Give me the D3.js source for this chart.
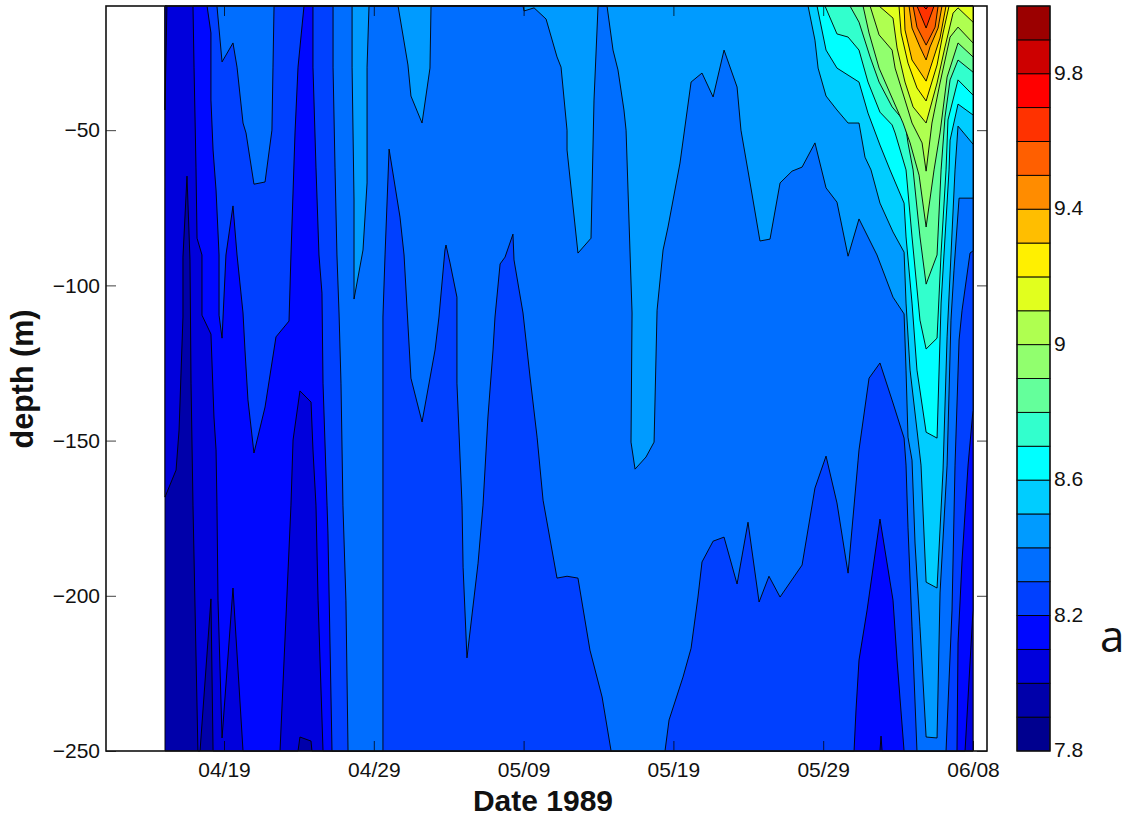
<!DOCTYPE html>
<html><head><meta charset="utf-8">
<script src="https://cdn.jsdelivr.net/npm/d3@7"></script>
<style>html,body{margin:0;padding:0;background:#fff}svg{display:block}text{font-family:"Liberation Sans",Arial,sans-serif;fill:#111}</style>
</head><body><div id="chart"></div>
<script>
// Days are counted from 19 April 1989; depths are in metres.
const xTickDays = [0,10,20,30,40,50];
const xTickLabels = ["04/19","04/29","05/09","05/19","05/29","06/08"];
const yTicks = [-50,-100,-150,-200,-250];
const yTickLabels = ["−50","−100","−150","−200","−250"];
const barTicks = [7.8,8.2,8.6,9,9.4,9.8];
const barTickLabels = ["7.8","8.2","8.6","9","9.4","9.8"];
const bandStarts = [7.8,7.9,8.0,8.1,8.2,8.3,8.4,8.5,8.6,8.7,8.8,8.9,9.0,9.1,9.2,9.3,9.4,9.5,9.6,9.7,9.8,9.9];
const bandColors = ["#00008f","#0000aa","#0000dc","#0008ff","#0040ff","#006eff","#009bff","#00cdff","#00ffff","#32ffcd","#64ff9b","#91ff6e","#afff50","#e1ff1e","#fff000","#ffbe00","#ff8c00","#ff5f00","#ff3200","#ff0000","#cd0000","#9b0000"];
const firstDay = -3.94, lastDay = 50, topDepth = -10, bottomDepth = -250;

const patch79 = [[-3.94,-10],[-3.81,-10],[-3.94,-43.5]];
const iso80 = [[-3.94,-168.2],[-3.2,-159.5],[-3,-146.6],[-2.74,-110.2],[-2.74,-90.9],[-2.47,-64.8],[-2.27,-91.8],[-2.2,-131.5],[-2.07,-170.8],[-1.74,-250],[-1.6,-250],[-0.87,-201],[-0.73,-250],[4.94,-250],[5.07,-245.5],[5.81,-246.8],[5.87,-250],[50,-250]];
const iso81 = [[-2.07,-10],[-2,-29.7],[-1.87,-61.9],[-1.8,-84.8],[-1.47,-90.2],[-1.47,-109.6],[-0.87,-115.7],[-0.67,-142.4],[-0.53,-153],[-0.47,-170.8],[-0.4,-201.4],[-0.13,-245.8],[0.6,-197.5],[1.27,-250],[3.74,-250],[4.47,-170.8],[4.61,-149.8],[5.07,-134],[5.81,-137.6],[5.94,-153],[6.14,-170.8],[6.28,-201.4],[6.61,-250],[43.79,-250],[43.86,-245.2],[43.93,-250],[49.47,-250],[50,-204.6]];
const iso82 = [[-1.13,-10],[-0.87,-18.7],[-0.87,-40.3],[-0.73,-56.4],[-0.53,-69.3],[-0.33,-90.2],[-0.33,-109.6],[-0.13,-117],[0.13,-90.2],[0.6,-74.4],[0.87,-90.2],[1.27,-108.9],[1.4,-120.8],[1.6,-136.9],[2,-154],[2.74,-139.2],[3.47,-116.6],[4.34,-111.5],[4.47,-90.2],[4.74,-50.9],[4.94,-29.7],[5.34,-10],[5.94,-10],[5.94,-29.7],[6.14,-61.9],[6.34,-90.2],[6.54,-102.5],[6.61,-131.5],[6.88,-170.8],[6.94,-179.8],[7.21,-250],[42.06,-250],[42.19,-236.8],[42.39,-220.7],[42.93,-204.6],[43.79,-175.3],[44.66,-201.4],[44.93,-220.7],[45.4,-250],[48.93,-250],[49,-215.2],[49.27,-188.5],[49.67,-157.9],[50,-140.2]];
const iso83 = [[-0.47,-10],[-0.13,-28],[0.6,-21.9],[0.87,-29.7],[1.27,-47.7],[1.47,-50.9],[2,-67.4],[2.74,-66.7],[3.2,-50],[3.27,-29.7],[3.34,-10],[7.28,-10],[7.28,-29.7],[7.41,-61.9],[7.54,-90.2],[7.68,-108.9],[7.81,-131.5],[7.94,-170.8],[8.14,-201.4],[8.28,-250],[10.61,-250],[10.61,-110.2],[10.75,-90.2],[11.02,-56.1],[11.75,-78],[12.02,-90.2],[12.48,-129.9],[13.22,-144],[14.09,-120.8],[14.35,-110.2],[14.75,-88.6],[14.82,-87],[15.09,-92.8],[15.55,-103.8],[15.55,-131.5],[15.89,-170.8],[15.96,-190.8],[16.22,-220],[16.96,-189.5],[17.29,-170.8],[17.62,-142.4],[17.96,-120.8],[18.09,-110.2],[18.43,-93.1],[18.76,-90.9],[19.29,-83.5],[19.36,-91.8],[19.96,-108.9],[20.43,-129.5],[20.9,-148.9],[21.3,-169.2],[21.5,-174.6],[22.23,-194.3],[22.9,-193.7],[23.63,-194.3],[24.43,-217.5],[25.24,-232.6],[25.84,-250],[29.44,-250],[29.71,-240],[30.64,-226.2],[31.18,-216.9],[31.64,-200.4],[31.91,-189.1],[32.65,-182.4],[33.38,-181.1],[34.25,-196.2],[34.98,-176.3],[35.72,-202],[36.38,-193.7],[37.12,-200.4],[38.59,-190.1],[39.45,-165.3],[40.19,-155],[40.92,-170.1],[41.66,-192.7],[42.33,-156.3],[42.39,-153],[43.06,-129.9],[43.79,-125],[44.66,-137.9],[45.4,-149.2],[45.53,-157.9],[45.66,-177.9],[45.93,-210],[46.26,-250],[48.2,-250],[48.6,-204.6],[48.8,-157.9],[49.07,-117.6],[49.27,-108],[49.8,-89.6],[50,-88.9]];
const iso84 = [[8.55,-10],[8.55,-29.7],[8.68,-72.5],[8.68,-104.4],[9.28,-88.6],[9.55,-67],[9.55,-29.7],[9.68,-10],[11.62,-10],[12.28,-29],[12.48,-39],[13.22,-47.7],[13.75,-30],[13.82,-10],[19.96,-10],[20.03,-11.6],[20.7,-10.6],[21.5,-14.2],[22.23,-26.4],[22.5,-29.7],[22.9,-50],[22.9,-56.4],[23.63,-89.6],[24.5,-84.8],[24.7,-40.3],[24.97,-10],[25.57,-10],[25.97,-24.2],[26.3,-30.6],[26.7,-43.5],[26.84,-50],[27.1,-88.6],[27.24,-108.9],[27.17,-150.5],[27.44,-159.2],[28.17,-155.3],[28.71,-150.5],[28.91,-108],[29.31,-88.6],[29.64,-81.2],[30.44,-60.6],[31.18,-34.5],[31.91,-31.6],[32.65,-39.3],[33.38,-24.2],[34.25,-36.1],[34.51,-50],[35.12,-67],[35.78,-85.7],[36.45,-85.1],[37.12,-67],[37.92,-63.2],[38.59,-61.9],[39.45,-54.1],[40.19,-68.6],[40.92,-73.2],[41.66,-90.6],[42.39,-78.6],[43.59,-90.2],[44.66,-103.8],[45.4,-109.2],[45.53,-127.3],[45.66,-148.9],[45.93,-156.3],[46.13,-183],[46.46,-210],[46.87,-245.5],[47.6,-245.8],[47.8,-199.1],[48.27,-157.9],[48.53,-111.2],[48.73,-95.1],[49.07,-71.9],[50,-71.9]];
const iso85 = [[38.99,-10],[39.45,-21],[39.66,-30],[40.19,-39],[40.92,-43.5],[41.66,-47.7],[42.39,-47.7],[42.79,-58.7],[43.19,-62.8],[43.79,-73.5],[44.66,-82.8],[45.4,-89.3],[45.53,-105.7],[45.8,-127.3],[46.53,-157.9],[46.87,-195.6],[47.6,-197.5],[48,-159.5],[48.27,-116.6],[48.8,-62.8],[49,-48.7],[50,-54.5]];
const iso86 = [[39.59,-10],[40.19,-24.2],[40.92,-30],[42.39,-34.5],[42.99,-44.5],[43.79,-54.8],[44.46,-62.8],[45.4,-73.5],[45.53,-84.4],[45.93,-105.7],[46.26,-127.3],[46.87,-147.3],[47.6,-149.2],[47.87,-105.7],[48.4,-62.8],[48.47,-53.2],[49,-41.6],[50,-45.1]];
const iso87 = [[40.12,-10],[40.92,-19],[41.66,-20],[42.39,-24.2],[42.99,-34.5],[43.79,-44.2],[44.6,-48.3],[44.8,-50.9],[45.53,-62.8],[45.93,-84.4],[46.46,-111.2],[46.87,-120.5],[47.6,-117],[47.87,-89.6],[48.2,-62.8],[48.33,-46.7],[49,-33.8],[50,-38.7]];
const iso88 = [[41.79,-10],[42.39,-15.2],[43.13,-26.4],[43.73,-34.5],[44.6,-42.5],[45.46,-47.4],[45.66,-54.1],[46,-62.8],[46.46,-84.4],[46.87,-99.6],[47.6,-90.2],[47.87,-62.8],[48.13,-45.8],[48.47,-33.8],[49,-27.4],[50,-31.3]];
const iso89 = [[42.66,-10],[43.06,-18.7],[43.73,-30],[44.66,-40.3],[45.33,-47.7],[45.8,-54.1],[46.4,-64.5],[46.87,-81.2],[47.4,-62.8],[47.8,-50.9],[48.27,-32.9],[49,-21.9],[50,-26.4]];
const iso90 = [[43.13,-10],[43.73,-19.3],[44.6,-24.2],[44.8,-30],[45.46,-40.3],[45.93,-47.7],[46.6,-54.1],[46.87,-63.2],[47.26,-47.7],[47.8,-34.8],[48.47,-20],[49,-16.8],[50,-21.9]];
const iso91 = [[43.73,-10],[44.66,-13.9],[44.93,-23.5],[45.46,-34.5],[46,-42.5],[46.87,-47.7],[47.6,-34.8],[48.13,-23.2],[48.67,-12.3],[49,-10.6],[50,-15.2]];
const iso92 = [[45.06,-10],[45.2,-18.7],[45.66,-28.4],[46.26,-36.4],[46.87,-40.6],[47.6,-29],[48,-18.7],[48.4,-10]];
const iso93 = [[45.4,-10],[45.46,-17.7],[45.93,-27.4],[46.87,-34.2],[47.8,-20.3],[48.2,-10]];
const iso94 = [[45.73,-10],[45.93,-17.1],[46.46,-23.2],[46.87,-27.4],[47.13,-23.2],[47.67,-17.1],[47.93,-10]];
const iso95 = [[46,-10],[46.26,-16.8],[46.87,-22.6],[47.47,-16.8],[47.67,-10]];
const iso96 = [[46.26,-10],[46.87,-17.1],[47.4,-10]];
const iso97 = [[46.67,-10],[46.87,-11],[47,-10]];
const isolines = [[8.0,iso80],[8.1,iso81],[8.2,iso82],[8.3,iso83],[8.4,iso84],[8.5,iso85],[8.6,iso86],[8.7,iso87],[8.8,iso88],[8.9,iso89],[9.0,iso90],[9.1,iso91],[9.2,iso92],[9.3,iso93],[9.4,iso94],[9.5,iso95],[9.6,iso96],[9.7,iso97]];

const W=1128,H=820,L=106,R=987,T=6,B=751;
const x=d3.scaleLinear().domain([-118/14.98,763/14.98]).range([L,R]);
const y=d3.scaleLinear().domain([topDepth,bottomDepth]).range([T,B]);
const svg=d3.select("#chart").append("svg").attr("width",W).attr("height",H);
const bandColor=d3.scaleThreshold().domain(bandStarts.slice(1)).range(bandColors);
const poly=d3.line().x(d=>x(d[0])).y(d=>y(d[1]));
const plot=svg.append("g");
const drawPoly=(pts,value)=>plot.append("path").attr("d",poly(pts)+"Z").attr("fill",bandColor(value+0.01)).attr("stroke","#000").attr("stroke-width",0.9).attr("stroke-linejoin","round");
drawPoly([[firstDay,topDepth],[lastDay,topDepth],[lastDay,bottomDepth],[firstDay,bottomDepth]],7.9);
isolines.forEach(([level,line])=>{
  const first=line[0],last=line[line.length-1];
  drawPoly([...line,[last[0],topDepth],[first[0],topDepth]],level);
});
drawPoly(patch79,7.9);

const styleAxis=g=>{g.select(".domain").remove();g.selectAll("line").attr("stroke","#000").attr("stroke-opacity",0.75);g.selectAll("text").style("font-size","21px").attr("fill","#111");};
svg.append("g").attr("transform",`translate(0,${B})`).call(d3.axisBottom(x).tickValues(xTickDays).tickFormat((d,i)=>xTickLabels[i]).tickSize(-10).tickPadding(11)).call(styleAxis);
svg.append("g").attr("transform",`translate(0,${T})`).call(d3.axisTop(x).tickValues(xTickDays).tickFormat("").tickSize(-10)).call(styleAxis);
svg.append("g").attr("transform",`translate(${L},0)`).call(d3.axisLeft(y).tickValues(yTicks).tickFormat((d,i)=>yTickLabels[i]).tickSize(-10).tickPadding(6)).call(styleAxis);
svg.append("g").attr("transform",`translate(${R},0)`).call(d3.axisRight(y).tickValues(yTicks).tickFormat("").tickSize(-10)).call(styleAxis);
svg.append("rect").attr("x",L).attr("y",T).attr("width",R-L).attr("height",B-T).attr("fill","none").attr("stroke","#111").attr("stroke-width",1.6);

svg.append("text").attr("x",543).attr("y",811).attr("text-anchor","middle").style("font-size","30px").style("font-weight","bold").text("Date 1989");
svg.append("text").attr("transform","translate(33,379) rotate(-90)").attr("text-anchor","middle").style("font-size","30.5px").style("font-weight","bold").text("depth (m)");

const cy=d3.scaleLinear().domain([7.8,10]).range([B,T]);
const cbL=1017,cbR=1050;
svg.append("g").selectAll("rect").data(bandStarts).join("rect").attr("x",cbL).attr("width",cbR-cbL).attr("y",d=>cy(d+0.1)).attr("height",d=>cy(d)-cy(d+0.1)).attr("fill",(d,i)=>bandColors[i]).attr("stroke","#000").attr("stroke-width",0.9);
svg.append("g").attr("transform",`translate(${cbR},-1)`).call(d3.axisRight(cy).tickValues(barTicks).tickFormat((d,i)=>barTickLabels[i]).tickSize(0).tickPadding(4)).call(styleAxis);
svg.append("rect").attr("x",cbL).attr("y",T).attr("width",cbR-cbL).attr("height",B-T).attr("fill","none").attr("stroke","#111").attr("stroke-width",1.3);
svg.append("text").attr("x",1100).attr("y",652).style("font-family","'Open Sans'").style("font-size","44px").text("a");
</script></body></html>
